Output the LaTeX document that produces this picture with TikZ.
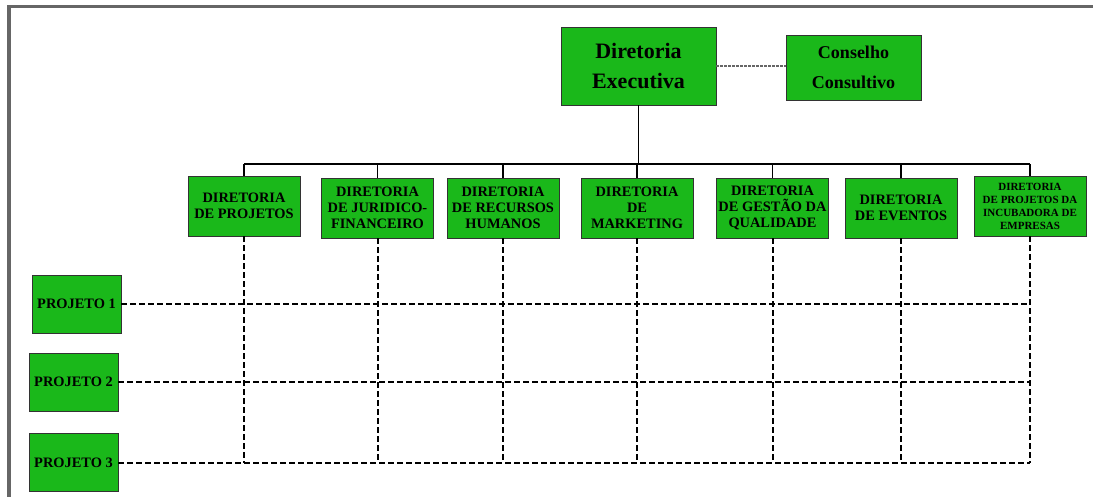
\documentclass[tikz,border=0pt]{standalone}
\usepackage{fontspec}
\setmainfont{Liberation Serif}
\usetikzlibrary{calc,positioning}
\definecolor{boxgreen}{RGB}{26,184,26}
\definecolor{framegrey}{gray}{0.4}

\begin{document}
\begin{tikzpicture}[x=0.5pt,y=-0.5pt]

\tikzset{greenbox/.style={draw=black!80,fill=boxgreen,inner sep=0pt,align=center,text=black},
dirbox/.style={greenbox,minimum width=56pt,minimum height=30pt,font=\bfseries\fontsize{7.2}{8}\selectfont},
projbox/.style={greenbox,minimum width=44.5pt,minimum height=29pt,font=\bfseries\fontsize{7.2}{8}\selectfont},
griddash/.style={line width=1pt,dash pattern=on 3pt off 1.5pt}}

\useasboundingbox (0,0) rectangle (1093,497);

% Frame
\draw[framegrey,line width=1.6pt] (9,560) -- (9,6.5) -- (1150,6.5);

% Top nodes
\node[greenbox,minimum width=77.5pt,minimum height=39pt,font=\bfseries\fontsize{11}{15}\selectfont] (dirExec) at (638.5,66) {Diretoria\\Executiva};
\node[greenbox,minimum width=67.5pt,minimum height=32.5pt,font=\bfseries\fontsize{9}{15}\selectfont] (conselho) at (853.5,67.5) {Conselho\\Consultivo};

% Directorates
\node[dirbox] (dProj) at (244,206) {DIRETORIA\\DE PROJETOS};
\node[dirbox] (dJur) at (377.5,208) {DIRETORIA\\DE JURIDICO-\\FINANCEIRO};
\node[dirbox] (dRH) at (503,208) {DIRETORIA\\DE RECURSOS\\HUMANOS};
\node[dirbox] (dMkt) at (637,208) {DIRETORIA\\DE\\MARKETING};
\node[dirbox] (dQual) at (772.5,208) {DIRETORIA\\DE GESTÃO DA\\QUALIDADE};
\node[dirbox] (dEvt) at (901,208) {DIRETORIA\\DE EVENTOS};
\node[dirbox,font=\bfseries\fontsize{5.5}{6.5}\selectfont] (dInc) at (1030,206) {DIRETORIA\\DE PROJETOS DA\\INCUBADORA DE\\EMPRESAS};

% Projects
\node[projbox] (p1) at (76.5,304) {PROJETO 1};
\node[projbox] (p2) at (73.5,382) {PROJETO 2};
\node[projbox] (p3) at (73.5,462.5) {PROJETO 3};

% Edges
\coordinate (bus) at (638,164);
\draw[gray!80!black,line width=0.6pt,dash pattern=on 1.5pt off 0.5pt] (dirExec.east) -- (dirExec.east -| conselho.west);
\draw[line width=0.55pt] (dirExec) -- (dirExec |- bus);
\draw[line width=0.55pt] (dProj.north |- bus) -- (dInc.north |- bus);
\foreach \n in {dProj,dJur,dRH,dMkt,dQual,dEvt,dInc} \draw[line width=0.55pt] (\n.north) -- (\n.north |- bus);

% Matrix
\foreach \n in {dProj,dJur,dRH,dMkt,dQual,dEvt,dInc} \draw[griddash] (\n.south) -- (\n.south |- p3.east);
\foreach \p in {p1,p2,p3} \draw[griddash] (\p.east) -- (\p.east -| dInc.south);

\end{tikzpicture}
\end{document}
